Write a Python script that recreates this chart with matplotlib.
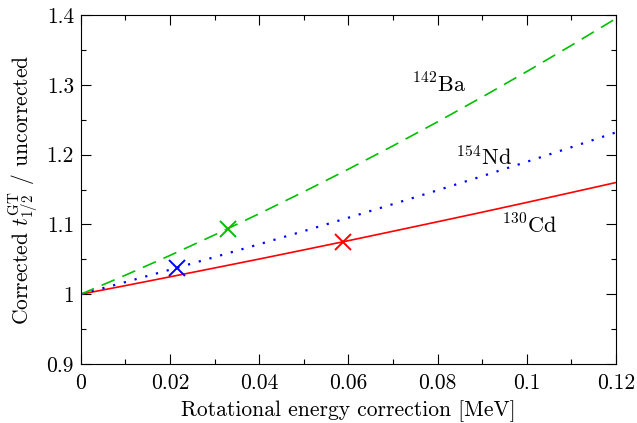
import matplotlib
matplotlib.use("Agg")
import matplotlib.pyplot as plt
from matplotlib.ticker import FuncFormatter, MultipleLocator

plt.rcParams['font.family'] = 'serif'
plt.rcParams['font.serif'] = ['cmr10']
plt.rcParams['mathtext.fontset'] = 'cm'
plt.rcParams['axes.formatter.use_mathtext'] = True

#==Dados==#
energia = [0.0, 0.01, 0.02, 0.03, 0.04, 0.05, 0.06, 0.07, 0.08, 0.09, 0.10, 0.11, 0.12]
ba142 = [1.0, 1.0273, 1.0556, 1.0850, 1.1154, 1.1468, 1.1792, 1.2126, 1.2470, 1.2825, 1.3190, 1.3565, 1.3950]
nd154 = [1.0, 1.0174, 1.0351, 1.0532, 1.0716, 1.0904, 1.1096, 1.1291, 1.1489, 1.1691, 1.1897, 1.2106, 1.2319]
cd130 = [1.0, 1.0123, 1.0249, 1.0376, 1.0504, 1.0635, 1.0767, 1.0902, 1.1038, 1.1175, 1.1315, 1.1457, 1.1600]

#==Pontos marcados (x)==#
marcas_x = [0.033, 0.0215, 0.0587]
marcas_y = [1.094, 1.037, 1.075]
cores = ['#00c000', 'blue', 'red']

fs = 15.5

fig = plt.figure(figsize=(6.37, 4.23), dpi=100)
ax = fig.add_axes([0.127, 0.1395, 0.840, 0.825])

ax.plot(energia, cd130, '-', color='red', lw=1.2)
ax.plot(energia, nd154, color='blue', lw=1.6, linestyle=(0, (1, 4)))
ax.plot(energia, ba142, color='#00c000', lw=1.2, linestyle=(0, (8.5, 5)))

for xm, ym, cor in zip(marcas_x, marcas_y, cores):
    ax.plot(xm, ym, 'x', color=cor, ms=11, mew=1.4)

ax.text(0.0742, 1.30, r'$^{142}$Ba', fontsize=fs + 0.5, va='center')
ax.text(0.0841, 1.197, r'$^{154}$Nd', fontsize=fs + 0.5, va='center')
ax.text(0.0944, 1.099, r'$^{130}$Cd', fontsize=fs + 0.5, va='center')

ax.set_xlim(0, 0.12)
ax.set_ylim(0.9, 1.4)
ax.xaxis.set_major_locator(MultipleLocator(0.02))
ax.xaxis.set_minor_locator(MultipleLocator(0.01))
ax.yaxis.set_major_locator(MultipleLocator(0.1))
ax.yaxis.set_minor_locator(MultipleLocator(0.05))
fmt = FuncFormatter(lambda v, p: '%g' % round(v, 4))
ax.xaxis.set_major_formatter(fmt)
ax.yaxis.set_major_formatter(fmt)
ax.tick_params(which='both', direction='in', top=True, right=True, labelsize=fs)
ax.tick_params(axis='x', which='major', pad=7)
ax.tick_params(axis='y', which='major', pad=5)
ax.tick_params(which='major', length=7, width=0.8)
ax.tick_params(which='minor', length=3.5, width=0.8)

ax.set_xlabel('Rotational energy correction [MeV]', fontsize=fs, labelpad=5)
ax.set_ylabel(r'Corrected $t_{1/2}^{\mathrm{GT}}$ / uncorrected', fontsize=fs, labelpad=5)

fig.savefig('out.png', dpi=100)
